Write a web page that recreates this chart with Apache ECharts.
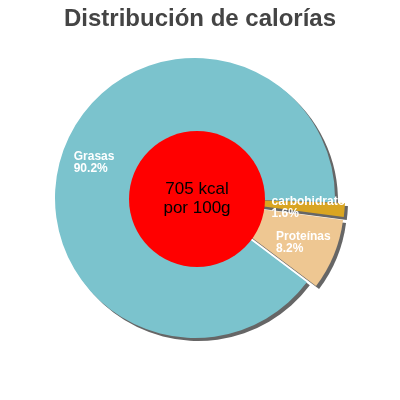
<!DOCTYPE html>
<html>
<head>
<meta charset="utf-8">
<script src="https://cdn.jsdelivr.net/npm/echarts@6/dist/echarts.min.js"></script>
<style>
  html, body { margin: 0; padding: 0; background: #fff; }
  #chart { width: 400px; height: 400px; }
</style>
</head>
<body>
<div id="chart"></div>
<script>
// datos
const categorias = ['Grasas', 'carbohidratos', 'Proteínas'];
const porcentajes = [90.2, 1.6, 8.2];
const colores = ['#7bc3cd', '#d9a521', '#eec792'];
const separados = [false, true, true];
const textoCentro = ['705 kcal', 'por 100g'];

const myChart = echarts.init(document.getElementById('chart'), null, { renderer: 'canvas' });

const datos = (conColor) => categorias.map((nombre, i) => ({
  name: nombre,
  value: porcentajes[i],
  selected: separados[i],
  itemStyle: { color: conColor ? colores[i] : 'rgba(0,0,0,0)' }
}));

const comun = {
  type: 'pie',
  center: [195, 198],
  startAngle: 323,
  clockwise: true,
  selectedMode: 'multiple',
  selectedOffset: 10,
  silent: true,
  avoidLabelOverlap: false,
  labelLine: { show: false },
  emphasis: { disabled: true }
};

const option = {
  animation: false,
  title: {
    text: 'Distribución de calorías',
    left: 'center',
    top: 2,
    textStyle: {
      fontFamily: 'Liberation Sans',
      fontSize: 24,
      fontWeight: 'bold',
      color: '#444'
    }
  },
  series: [
    // porciones (pie completo, el circulo rojo tapa el centro)
    Object.assign({}, comun, {
      radius: [0, 140],
      z: 1,
      itemStyle: {
        borderWidth: 0,
        shadowColor: '#666',
        shadowBlur: 0,
        shadowOffsetX: 3,
        shadowOffsetY: 3
      },
      label: { show: false },
      data: datos(true)
    }),
    // circulo rojo central
    {
      type: 'pie',
      center: [197, 199],
      radius: [0, 68],
      z: 2,
      silent: true,
      label: {
        show: true,
        position: 'center',
        formatter: textoCentro.join('\n'),
        color: '#000',
        fontFamily: 'Liberation Sans',
        fontSize: 17,
        lineHeight: 19
      },
      labelLine: { show: false },
      emphasis: { disabled: true },
      data: [{ value: 1, name: 'centro', itemStyle: { color: '#ff0000' } }]
    },
    // solo etiquetas, en el anillo visible
    Object.assign({}, comun, {
      radius: [68, 140],
      z: 3,
      itemStyle: { borderWidth: 0 },
      label: {
        show: true,
        position: 'inside',
        formatter: '{b}\n{c}%',
        color: '#fff',
        fontFamily: 'Liberation Sans',
        fontSize: 12,
        fontWeight: 'bold',
        lineHeight: 12
      },
      // lineas alineadas a la izquierda dentro del bloque centrado
      labelLayout: (p) => ({
        dx: -p.labelRect.width / 2,
        align: 'left'
      }),
      data: datos(false)
    })
  ]
};

myChart.setOption(option);
</script>
</body>
</html>
